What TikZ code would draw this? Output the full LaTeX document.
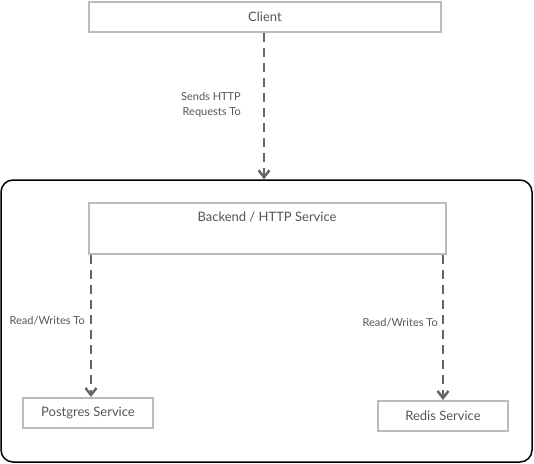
\documentclass[tikz,border=0pt]{standalone}
\usepackage{fontspec}
\setmainfont{Lato}
\usetikzlibrary{arrows.meta}
\definecolor{boxgray}{HTML}{BBBBBB}
\definecolor{linegray}{HTML}{666666}
\definecolor{txtgray}{HTML}{555555}
\begin{document}
\begin{tikzpicture}[x=1pt,y=-1pt,
 box/.style={draw=boxgray,line width=2pt,text=txtgray,inner sep=0pt,font=\fontsize{13}{15}\selectfont},
 conn/.style={draw=linegray,line width=2.5pt,dash pattern=on 9pt off 6pt,-{Straight Barb[length=7pt,width=11pt]}},
 lbl/.style={text=txtgray,font=\fontsize{11}{15}\selectfont,align=right,inner sep=0pt}]
\useasboundingbox (0,0) rectangle (534,463);
\node[draw=black,line width=1.5pt,rounded corners=12pt,minimum width=531pt,minimum height=282pt,inner sep=0pt] (boundary) at (266.5,321) {};
\node[box,minimum width=352pt,minimum height=30pt] (client) at (265,17) {Client};
\node[box,minimum width=357pt,minimum height=51pt] (backend) at (267,228.5) {};
\node[text=txtgray,font=\fontsize{13}{15}\selectfont,inner sep=0pt] (backendtxt) at (267,217) {Backend / HTTP Service};
\node[box,minimum width=130pt,minimum height=30pt] (postgres) at (88,413) {Postgres Service};
\node[box,minimum width=130pt,minimum height=30pt] (redis) at (443,416) {Redis Service};
\coordinate (lx) at (91,0);
\coordinate (rx) at (443,0);
\coordinate (cx) at (264,0);
\draw[conn] (client.south -| cx) -- (boundary.north -| cx);
\draw[conn] (backend.south -| lx) -- (postgres.north -| lx);
\draw[conn] (backend.south -| rx) -- (redis.north -| rx);
\node[lbl,anchor=east] (l1) at (241,105) {Sends HTTP\\Requests To};
\node[lbl,anchor=east] (l2) at (85,321) {Read/Writes To};
\node[lbl,anchor=east] (l3) at (438,323) {Read/Writes To};
\end{tikzpicture}
\end{document}
